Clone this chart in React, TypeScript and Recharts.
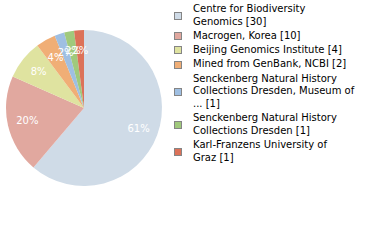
import { PieChart, Pie, Cell } from 'recharts';

const names = [
  'Centre for Biodiversity\nGenomics',
  'Macrogen, Korea',
  'Beijing Genomics Institute',
  'Mined from GenBank, NCBI',
  'Senckenberg Natural History\nCollections Dresden, Museum of\n...',
  'Senckenberg Natural History\nCollections Dresden',
  'Karl-Franzens University of\nGraz',
];
const counts = [30, 10, 4, 2, 1, 1, 1];
const colors = ['#cfdbe7', '#e1a89f', '#dfe3a0', '#f0ae76', '#9fbfe2', '#a0c97c', '#dc7259'];

const data = names.map((name, i) => ({ name, value: counts[i] }));

const font = '"DejaVu Sans", Verdana, sans-serif';

const RADIAN = Math.PI / 180;
const renderLabel = (props: any) => {
  const { cx, cy, midAngle, outerRadius, percent } = props;
  const r = outerRadius * 0.745;
  const x = cx + r * Math.cos(-midAngle * RADIAN);
  const y = cy + r * Math.sin(-midAngle * RADIAN);
  return (
    <text x={x} y={y} fill="#fff" textAnchor="middle" dominantBaseline="central" fontSize={10} fontFamily={font}>
      {`${Math.round(percent * 100)}%`}
    </text>
  );
};

export default function App() {
  return (
    <div style={{ position: 'absolute', left: 0, top: 0, width: 380, height: 240, background: '#fff' }}>
      <PieChart width={380} height={240} margin={{ top: 0, right: 0, bottom: 0, left: 0 }}>
        <Pie
          data={data}
          dataKey="value"
          cx={84}
          cy={108}
          outerRadius={78}
          startAngle={90}
          endAngle={-270}
          stroke="none"
          labelLine={false}
          label={renderLabel}
          isAnimationActive={false}
        >
          {data.map((d, i) => (
            <Cell key={d.name} fill={colors[i]} />
          ))}
        </Pie>
      </PieChart>
      <div style={{ position: 'absolute', left: 174, top: 3, fontFamily: font, fontSize: 10, color: '#000' }}>
        {data.map((d, i) => (
          <div key={d.name} style={{ display: 'flex', alignItems: 'center', marginBottom: 1.5 }}>
            <div
              style={{
                width: 8,
                height: 8,
                boxSizing: 'border-box',
                border: '1px solid #858585',
                background: colors[i],
                marginRight: 11,
                flexShrink: 0,
              }}
            />
            <div style={{ whiteSpace: 'pre-line', lineHeight: '12.7px' }}>{`${d.name} [${d.value}]`}</div>
          </div>
        ))}
      </div>
    </div>
  );
}
